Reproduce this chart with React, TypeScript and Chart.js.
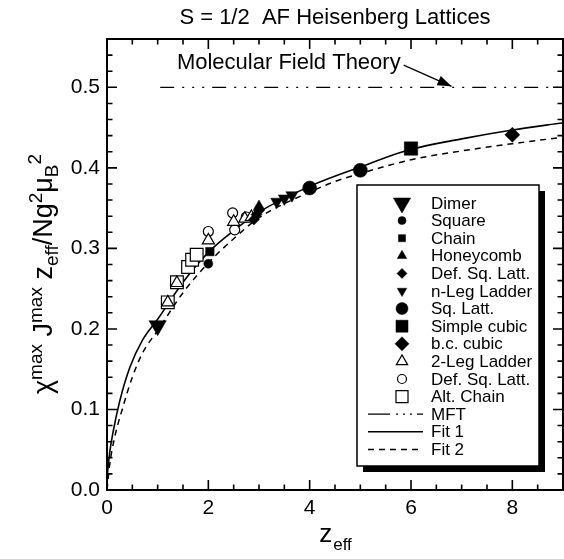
import React, { useEffect, useRef } from 'react';
import { Chart, registerables } from 'chart.js';
import { drawPoint } from 'chart.js/helpers';

Chart.register(...registerables);

const FONT = "'Liberation Sans', Arial, Helvetica, sans-serif";

// ---- data (z_eff, chi*J*z/Ng^2muB^2) ----
const dimerZ = [1.0];
const dimerV = [0.204];
const squareZ = [2.0];
const squareV = [0.281];
const chainZ = [2.03];
const chainV = [0.296];
const honeycombZ = [3.0];
const honeycombV = [0.352];
const defSqFilledZ = [2.9, 2.95, 3.0];
const defSqFilledV = [0.336, 0.342, 0.347];
const nLegZ = [3.35, 3.5, 3.65];
const nLegV = [0.358, 0.362, 0.366];
const sqLattZ = [4.0, 5.0];
const sqLattV = [0.375, 0.397];
const simpleCubicZ = [6.0];
const simpleCubicV = [0.424];
const bccZ = [8.0];
const bccV = [0.441];
const twoLegZ = [1.2, 1.38, 2.0, 2.5, 2.72, 2.85];
const twoLegV = [0.233, 0.257, 0.31, 0.333, 0.337, 0.339];
const defSqOpenZ = [2.0, 2.48, 2.52, 2.75];
const defSqOpenV = [0.321, 0.344, 0.323, 0.339];
const altChainZ = [1.2, 1.38, 1.6, 1.68, 1.77];
const altChainV = [0.233, 0.258, 0.277, 0.286, 0.292];

const mftZ = [1.05, 9.0];
const mftV = [0.5, 0.5];

const fit1Z = [0.0, 0.05, 0.12, 0.25, 0.45, 0.7, 1.0, 1.5, 2.0, 2.5, 3.0, 4.0, 5.0, 6.0, 7.0, 8.0, 9.0];
const fit1V = [0.015, 0.045, 0.072, 0.11, 0.152, 0.186, 0.212, 0.258, 0.295, 0.322, 0.345, 0.377, 0.401, 0.423, 0.436, 0.447, 0.456];
const fit2Z = [0.0, 0.05, 0.15, 0.3, 0.5, 0.7, 1.0, 1.5, 2.0, 2.5, 3.0, 4.0, 4.5, 5.0, 6.0, 7.0, 8.0, 9.0];
const fit2V = [0.0, 0.03, 0.065, 0.1, 0.14, 0.17, 0.198, 0.245, 0.282, 0.312, 0.338, 0.37, 0.383, 0.393, 0.41, 0.421, 0.43, 0.438];

const xTicks = [0, 2, 4, 6, 8];
const yTicks = [0.0, 0.1, 0.2, 0.3, 0.4, 0.5];

const titleText = 'S = 1/2  AF Heisenberg Lattices';
const annotationText = 'Molecular Field Theory';

const xy = (xs: number[], ys: number[]) => xs.map((x, i) => ({ x, y: ys[i] }));

type Marker = {
  label: string;
  data: { x: number; y: number }[];
  style: string;
  rotation: number;
  radius: number;
  legendRadius: number;
  filled: boolean;
};

export default function App() {
  const ref = useRef<HTMLCanvasElement | null>(null);

  useEffect(() => {
    const markers: Marker[] = [
      { label: 'Dimer', data: xy(dimerZ, dimerV), style: 'triangle', rotation: 180, radius: 10, legendRadius: 10, filled: true },
      { label: 'Square', data: xy(squareZ, squareV), style: 'circle', rotation: 0, radius: 4.5, legendRadius: 4, filled: true },
      { label: 'Chain', data: xy(chainZ, chainV), style: 'rect', rotation: 0, radius: 6, legendRadius: 5, filled: true },
      { label: 'Honeycomb', data: xy(honeycombZ, honeycombV), style: 'triangle', rotation: 0, radius: 6.5, legendRadius: 5.5, filled: true },
      { label: 'Def. Sq. Latt.', data: xy(defSqFilledZ, defSqFilledV), style: 'rectRot', rotation: 0, radius: 5.5, legendRadius: 5, filled: true },
      { label: 'n-Leg Ladder', data: xy(nLegZ, nLegV), style: 'triangle', rotation: 180, radius: 7, legendRadius: 5.5, filled: true },
      { label: 'Sq. Latt.', data: xy(sqLattZ, sqLattV), style: 'circle', rotation: 0, radius: 7, legendRadius: 6, filled: true },
      { label: 'Simple cubic', data: xy(simpleCubicZ, simpleCubicV), style: 'rect', rotation: 0, radius: 9.5, legendRadius: 8.5, filled: true },
      { label: 'b.c. cubic', data: xy(bccZ, bccV), style: 'rectRot', rotation: 0, radius: 7.5, legendRadius: 7, filled: true },
      { label: '2-Leg Ladder', data: xy(twoLegZ, twoLegV), style: 'triangle', rotation: 0, radius: 7, legendRadius: 6.5, filled: false },
      { label: 'Def. Sq. Latt.', data: xy(defSqOpenZ, defSqOpenV), style: 'circle', rotation: 0, radius: 5, legendRadius: 4.5, filled: false },
      { label: 'Alt. Chain', data: xy(altChainZ, altChainV), style: 'rect', rotation: 0, radius: 9, legendRadius: 8.5, filled: false },
    ];

    const lineSeries = [
      { label: 'MFT', data: xy(mftZ, mftV), dash: [14, 8, 2, 8, 2, 8, 2, 8], width: 1.3 },
      { label: 'Fit 1', data: xy(fit1Z, fit1V), dash: [] as number[], width: 1.6 },
      { label: 'Fit 2', data: xy(fit2Z, fit2V), dash: [6, 5], width: 1.5 },
    ];

    const datasets: any[] = [
      ...markers.map((m) => ({
        label: m.label,
        data: m.data,
        showLine: false,
        pointStyle: m.style,
        rotation: m.rotation,
        pointRotation: m.rotation,
        pointRadius: m.radius,
        pointHoverRadius: m.radius,
        pointBackgroundColor: m.filled ? '#000' : '#fff',
        pointBorderColor: '#000',
        pointBorderWidth: m.filled ? 0.5 : 1.2,
        order: 1,
      })),
      ...lineSeries.map((l) => ({
        label: l.label,
        data: l.data,
        showLine: true,
        borderColor: '#000',
        borderWidth: l.width,
        borderDash: l.dash,
        pointRadius: 0,
        pointHoverRadius: 0,
        fill: false,
        cubicInterpolationMode: 'monotone',
        order: 2,
      })),
    ];

    const decor = {
      id: 'decor',
      afterDraw(chart: any) {
        const ctx: CanvasRenderingContext2D = chart.ctx;
        const xs = chart.scales.x;
        const ys = chart.scales.y;
        const ca = chart.chartArea;
        ctx.save();

        // frame
        ctx.strokeStyle = '#000';
        ctx.lineWidth = 2;
        ctx.strokeRect(ca.left, ca.top, ca.right - ca.left, ca.bottom - ca.top);

        // ticks (inward on all sides)
        ctx.lineWidth = 1.6;
        ctx.beginPath();
        for (let i = 0; i <= 18; i++) {
          const v = i * 0.5;
          const px = xs.getPixelForValue(v);
          const len = i % 4 === 0 ? 10 : 5.5;
          ctx.moveTo(px, ca.bottom);
          ctx.lineTo(px, ca.bottom - len);
          ctx.moveTo(px, ca.top);
          ctx.lineTo(px, ca.top + len);
        }
        for (let i = 0; i <= 28; i++) {
          const v = i * 0.02;
          const py = ys.getPixelForValue(v);
          const len = i % 5 === 0 ? 10 : 5.5;
          ctx.moveTo(ca.left, py);
          ctx.lineTo(ca.left + len, py);
          ctx.moveTo(ca.right, py);
          ctx.lineTo(ca.right - len, py);
        }
        ctx.stroke();

        // title
        ctx.fillStyle = '#000';
        ctx.font = `22px ${FONT}`;
        ctx.textAlign = 'center';
        ctx.textBaseline = 'middle';
        ctx.fillText(titleText, (ca.left + ca.right) / 2, 18);

        // x axis title z_eff
        ctx.textAlign = 'left';
        ctx.textBaseline = 'alphabetic';
        ctx.font = `26px ${FONT}`;
        const zW = ctx.measureText('z').width;
        ctx.font = `17px ${FONT}`;
        const effW = ctx.measureText('eff').width;
        const xStart = (ca.left + ca.right) / 2 - (zW + effW) / 2;
        ctx.font = `26px ${FONT}`;
        ctx.fillText('z', xStart, 542);
        ctx.font = `17px ${FONT}`;
        ctx.fillText('eff', xStart + zW + 1, 550);

        // y axis label (rotated rich text)
        const segs: [string, number, number][] = [
          ['\u03C7', 27, 0],
          ['max', 19, -10],
          [' J', 27, 0],
          ['max', 19, -10],
          [' z', 27, 0],
          ['eff', 19, 6],
          ['/Ng', 27, 0],
          ['2', 19, -10],
          ['\u03BC', 27, 0],
          ['B', 19, 6],
          ['2', 19, -11],
        ];
        let total = 0;
        const widths = segs.map(([t, s]) => {
          ctx.font = `${s}px ${FONT}`;
          const w = ctx.measureText(t).width;
          total += w;
          return w;
        });
        ctx.translate(52, 274);
        ctx.rotate(-Math.PI / 2);
        let cx = -total / 2;
        segs.forEach(([t, s, off], i) => {
          ctx.font = `${s}px ${FONT}`;
          ctx.fillText(t, cx, off);
          cx += widths[i];
        });
        ctx.setTransform(1, 0, 0, 1, 0, 0);

        // annotation for MFT
        ctx.font = `22px ${FONT}`;
        ctx.textAlign = 'left';
        ctx.textBaseline = 'middle';
        const ax = xs.getPixelForValue(1.38);
        const ay = ys.getPixelForValue(0.53);
        ctx.fillText(annotationText, ax, ay);
        const tw = ctx.measureText(annotationText).width;
        const sx = ax + tw + 3;
        const sy = ay + 2;
        const ex = xs.getPixelForValue(6.8);
        const ey = ys.getPixelForValue(0.5) - 1;
        ctx.lineWidth = 1.3;
        ctx.beginPath();
        ctx.moveTo(sx, sy);
        ctx.lineTo(ex, ey);
        ctx.stroke();
        const ang = Math.atan2(ey - sy, ex - sx);
        const hl = 14, hw = 5;
        ctx.beginPath();
        ctx.moveTo(ex, ey);
        ctx.lineTo(ex - hl * Math.cos(ang) + hw * Math.sin(ang), ey - hl * Math.sin(ang) - hw * Math.cos(ang));
        ctx.lineTo(ex - hl * Math.cos(ang) - hw * Math.sin(ang), ey - hl * Math.sin(ang) + hw * Math.cos(ang));
        ctx.closePath();
        ctx.fill();

        // legend box
        const bx = 357, by = 185, bw = 182, bh = 281;
        ctx.fillStyle = '#000';
        ctx.fillRect(bx + 6, by + 6, bw, bh);
        ctx.fillStyle = '#fff';
        ctx.fillRect(bx, by, bw, bh);
        ctx.strokeStyle = '#000';
        ctx.lineWidth = 1.5;
        ctx.strokeRect(bx, by, bw, bh);

        const rowH = 17.6;
        let ry = 203;
        const symX = 402;
        const textX = 431;
        ctx.font = `17px ${FONT}`;
        ctx.textBaseline = 'middle';
        ctx.textAlign = 'left';
        markers.forEach((m) => {
          ctx.fillStyle = m.filled ? '#000' : '#fff';
          ctx.strokeStyle = '#000';
          ctx.lineWidth = m.filled ? 0.5 : 1.2;
          drawPoint(ctx, { pointStyle: m.style, rotation: m.rotation, radius: m.legendRadius, borderWidth: ctx.lineWidth } as any, symX, ry);
          ctx.fillStyle = '#000';
          ctx.fillText(m.label, textX, ry + 1);
          ry += rowH;
        });
        lineSeries.forEach((l) => {
          ctx.strokeStyle = '#000';
          ctx.lineWidth = l.width;
          ctx.setLineDash(l.label === 'MFT' ? [22, 6, 2, 5, 2, 5, 2, 5] : l.dash);
          ctx.beginPath();
          ctx.moveTo(368, ry);
          ctx.lineTo(423, ry);
          ctx.stroke();
          ctx.setLineDash([]);
          ctx.fillStyle = '#000';
          ctx.fillText(l.label, textX, ry + 1);
          ry += rowH;
        });

        ctx.restore();
      },
    };

    const chart = new Chart(ref.current as HTMLCanvasElement, {
      type: 'scatter',
      data: { datasets },
      options: {
        responsive: false,
        animation: false,
        devicePixelRatio: 1,
        layout: { autoPadding: false, padding: { top: 39, right: 1, left: 0, bottom: 0 } },
        plugins: {
          legend: { display: false },
          title: { display: false },
          tooltip: { enabled: false },
        },
        scales: {
          x: {
            type: 'linear',
            min: 0,
            max: 9,
            afterBuildTicks: (s: any) => {
              s.ticks = xTicks.map((v) => ({ value: v }));
            },
            ticks: {
              color: '#000',
              font: { family: FONT, size: 21 },
              padding: 6,
              maxRotation: 0,
              callback: (v: any) => String(v),
            },
            grid: { display: false, drawTicks: false },
            border: { display: false },
            afterFit: (s: any) => {
              s.height = 69;
              s.paddingLeft = 0;
              s.paddingRight = 0;
            },
          },
          y: {
            type: 'linear',
            min: 0,
            max: 0.56,
            afterBuildTicks: (s: any) => {
              s.ticks = yTicks.map((v) => ({ value: v }));
            },
            ticks: {
              color: '#000',
              font: { family: FONT, size: 21 },
              padding: 7,
              callback: (v: any) => Number(v).toFixed(1),
            },
            grid: { display: false, drawTicks: false },
            border: { display: false },
            afterFit: (s: any) => {
              s.width = 107;
              s.paddingTop = 0;
              s.paddingBottom = 0;
            },
          },
        },
      } as any,
      plugins: [decor],
    });

    return () => chart.destroy();
  }, []);

  return (
    <div style={{ position: 'absolute', left: 0, top: 0, width: 564, height: 559, background: '#fff' }}>
      <canvas ref={ref} width={564} height={559} style={{ display: 'block', width: 564, height: 559 }} />
    </div>
  );
}
